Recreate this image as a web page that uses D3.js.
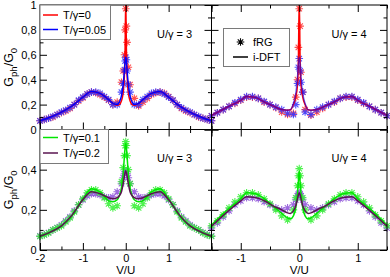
<!DOCTYPE html>
<html>
<head>
<meta charset="utf-8">
<script src="https://cdn.jsdelivr.net/npm/d3@7"></script>
<style>
  html, body { margin: 0; padding: 0; background: #fff; }
  svg { display: block; font-family: "Liberation Sans", Arial, sans-serif; }
  .tick text { font-size: 11px; fill: #000; }
  .tick line { stroke: #000; }
</style>
</head>
<body>
<svg id="chart" width="390" height="277"></svg>
<script>
// ---- data -------------------------------------------------------------
// i-DFT lines (U/γ=3 on V/U in [-2,2], U/γ=4 on V/U in [-1.5,1.5])
const vLine3 = [-2, -1.75, -1.5, -1.25, -1, -0.8, -0.6, -0.4, -0.3, -0.2, -0.15, -0.1, -0.06, -0.03, -0.015, 0,
  0.015, 0.03, 0.06, 0.1, 0.15, 0.2, 0.3, 0.4, 0.6, 0.8, 1, 1.25, 1.5, 1.75, 2];
const dftT0U3 = [0.07, 0.1, 0.14, 0.19, 0.26, 0.305, 0.29, 0.24, 0.21, 0.195, 0.2, 0.23, 0.3, 0.45, 0.65, 1.05,
  0.65, 0.45, 0.3, 0.23, 0.2, 0.195, 0.21, 0.24, 0.29, 0.305, 0.26, 0.19, 0.14, 0.1, 0.07];
const dftT005U3 = [0.07, 0.1, 0.14, 0.19, 0.26, 0.305, 0.29, 0.24, 0.21, 0.2, 0.22, 0.27, 0.36, 0.48, 0.55, 0.58,
  0.55, 0.48, 0.36, 0.27, 0.22, 0.2, 0.21, 0.24, 0.29, 0.305, 0.26, 0.19, 0.14, 0.1, 0.07];
const dftT01U3 = [0.068, 0.09, 0.12, 0.17, 0.255, 0.305, 0.29, 0.245, 0.24, 0.25, 0.27, 0.31, 0.38, 0.47, 0.51, 0.53,
  0.51, 0.47, 0.38, 0.31, 0.27, 0.25, 0.24, 0.245, 0.29, 0.305, 0.255, 0.17, 0.12, 0.09, 0.068];
const dftT02U3 = [0.068, 0.09, 0.12, 0.175, 0.25, 0.29, 0.28, 0.26, 0.255, 0.26, 0.27, 0.29, 0.33, 0.37, 0.385, 0.395,
  0.385, 0.37, 0.33, 0.29, 0.27, 0.26, 0.255, 0.26, 0.28, 0.29, 0.25, 0.175, 0.12, 0.09, 0.068];

const vLine4 = [-1.5, -1.25, -1, -0.9, -0.75, -0.6, -0.45, -0.3, -0.2, -0.15, -0.1, -0.06, -0.03, -0.015, 0,
  0.015, 0.03, 0.06, 0.1, 0.15, 0.2, 0.3, 0.45, 0.6, 0.75, 0.9, 1, 1.25, 1.5];
const dftT0U4 = [0.113, 0.175, 0.234, 0.265, 0.258, 0.222, 0.19, 0.16, 0.155, 0.158, 0.2, 0.26, 0.36, 0.55, 1.05,
  0.55, 0.36, 0.26, 0.2, 0.158, 0.155, 0.16, 0.19, 0.222, 0.258, 0.265, 0.234, 0.175, 0.113];
const dftT005U4 = [0.113, 0.175, 0.234, 0.265, 0.258, 0.222, 0.19, 0.16, 0.155, 0.16, 0.21, 0.29, 0.42, 0.52, 0.58,
  0.52, 0.42, 0.29, 0.21, 0.16, 0.155, 0.16, 0.19, 0.222, 0.258, 0.265, 0.234, 0.175, 0.113];
const dftT01U4 = [0.124, 0.195, 0.255, 0.285, 0.28, 0.256, 0.22, 0.182, 0.16, 0.155, 0.17, 0.21, 0.28, 0.34, 0.395,
  0.34, 0.28, 0.21, 0.17, 0.155, 0.16, 0.182, 0.22, 0.256, 0.28, 0.285, 0.255, 0.195, 0.124];
const dftT02U4 = [0.118, 0.185, 0.245, 0.265, 0.262, 0.245, 0.22, 0.2, 0.185, 0.182, 0.195, 0.22, 0.255, 0.275, 0.285,
  0.275, 0.255, 0.22, 0.195, 0.182, 0.185, 0.2, 0.22, 0.245, 0.262, 0.265, 0.245, 0.185, 0.118];

// fRG points
const vStar3 = [-2, -1.9, -1.8, -1.7, -1.6, -1.5, -1.4, -1.3, -1.2, -1.1, -1, -0.9, -0.8, -0.7, -0.6, -0.5, -0.4, -0.3, -0.2, -0.1,
  -0.06, -0.03, -0.015, 0, 0.015, 0.03, 0.06,
  0.1, 0.2, 0.3, 0.4, 0.5, 0.6, 0.7, 0.8, 0.9, 1, 1.1, 1.2, 1.3, 1.4, 1.5, 1.6, 1.7, 1.8, 1.9, 2];
const frgT0U3 = [0.07, 0.08, 0.09, 0.1, 0.12, 0.135, 0.15, 0.17, 0.2, 0.23, 0.255, 0.285, 0.3, 0.295, 0.28, 0.26, 0.235, 0.2, 0.22, 0.38,
  0.47, 0.6, 0.8, 0.97, 0.83, 0.7, 0.5,
  0.36, 0.25, 0.19, 0.22, 0.25, 0.28, 0.295, 0.3, 0.29, 0.265, 0.235, 0.2, 0.17, 0.15, 0.135, 0.12, 0.1, 0.09, 0.08, 0.07];
const frgT005U3 = [0.07, 0.08, 0.09, 0.105, 0.12, 0.14, 0.155, 0.175, 0.2, 0.235, 0.26, 0.285, 0.3, 0.3, 0.29, 0.265, 0.24, 0.2, 0.2, 0.3,
  0.37, 0.48, 0.55, 0.58, 0.56, 0.47, 0.36,
  0.3, 0.2, 0.2, 0.24, 0.265, 0.29, 0.3, 0.3, 0.285, 0.26, 0.235, 0.2, 0.175, 0.155, 0.14, 0.12, 0.105, 0.09, 0.08, 0.07];
const frgT01U3 = [0.068, 0.075, 0.085, 0.1, 0.11, 0.12, 0.14, 0.16, 0.19, 0.225, 0.255, 0.285, 0.3, 0.3, 0.285, 0.26, 0.23, 0.21, 0.22, 0.34,
  0.41, 0.47, 0.52, 0.54, 0.52, 0.47, 0.4,
  0.33, 0.22, 0.21, 0.23, 0.26, 0.285, 0.3, 0.3, 0.285, 0.255, 0.225, 0.19, 0.16, 0.14, 0.12, 0.11, 0.1, 0.085, 0.075, 0.068];
const frgT02U3 = [0.07, 0.077, 0.087, 0.1, 0.112, 0.125, 0.145, 0.165, 0.195, 0.225, 0.25, 0.27, 0.28, 0.28, 0.275, 0.265, 0.26, 0.265, 0.29, 0.33,
  0.36, 0.38, 0.39, 0.39, 0.39, 0.38, 0.36,
  0.33, 0.29, 0.265, 0.26, 0.265, 0.275, 0.28, 0.28, 0.27, 0.25, 0.225, 0.195, 0.165, 0.145, 0.125, 0.112, 0.1, 0.087, 0.077, 0.07];

const vStar4 = [-1.5, -1.4, -1.3, -1.2, -1.1, -1, -0.9, -0.8, -0.7, -0.6, -0.5, -0.4, -0.3, -0.2, -0.1,
  -0.06, -0.03, -0.015, 0, 0.015, 0.03, 0.06,
  0.1, 0.2, 0.3, 0.4, 0.5, 0.6, 0.7, 0.8, 0.9, 1, 1.1, 1.2, 1.3, 1.4, 1.5];
const frgT0U4 = [0.11, 0.135, 0.16, 0.185, 0.21, 0.235, 0.26, 0.26, 0.25, 0.22, 0.2, 0.175, 0.14, 0.12, 0.13,
  0.26, 0.4, 0.66, 0.97, 0.83, 0.46, 0.3,
  0.16, 0.115, 0.14, 0.17, 0.2, 0.22, 0.25, 0.26, 0.26, 0.235, 0.21, 0.185, 0.16, 0.135, 0.11];
const frgT005U4 = [0.11, 0.135, 0.16, 0.185, 0.215, 0.24, 0.265, 0.265, 0.25, 0.225, 0.2, 0.18, 0.16, 0.13, 0.12,
  0.2, 0.37, 0.5, 0.57, 0.47, 0.38, 0.3,
  0.14, 0.12, 0.16, 0.18, 0.2, 0.225, 0.25, 0.265, 0.265, 0.24, 0.215, 0.185, 0.16, 0.135, 0.11];
const frgT01U4 = [0.12, 0.145, 0.175, 0.21, 0.24, 0.265, 0.285, 0.285, 0.275, 0.255, 0.23, 0.2, 0.17, 0.15, 0.2,
  0.26, 0.32, 0.37, 0.405, 0.37, 0.32, 0.26,
  0.2, 0.15, 0.17, 0.2, 0.23, 0.255, 0.275, 0.285, 0.285, 0.265, 0.24, 0.21, 0.175, 0.145, 0.12];
const frgT02U4 = [0.11, 0.135, 0.165, 0.195, 0.225, 0.245, 0.26, 0.26, 0.255, 0.24, 0.225, 0.21, 0.2, 0.21, 0.225,
  0.25, 0.27, 0.28, 0.285, 0.28, 0.27, 0.25,
  0.225, 0.21, 0.2, 0.21, 0.225, 0.24, 0.255, 0.26, 0.26, 0.245, 0.225, 0.195, 0.165, 0.135, 0.11];

const legendTop = ['T/γ=0', 'T/γ=0.05'];
const legendBottom = ['T/γ=0.1', 'T/γ=0.2'];
const legendMethod = ['fRG', 'i-DFT'];
const panelLabels = ['U/γ = 3', 'U/γ = 4'];

// ---- layout -------------------------------------------------------------
const EDGE = { left: 40, mid: 211.5, right: 387, top: 5, split: 129.5, bottom: 250 };
const COL = { red: '#ff0000', blue: '#0000ff', green: '#00e600', dark: '#5a1450',
  sRed: '#ff3030', sBlue: '#3535ff', sGreen: '#30f030', sPurple: '#8c4fd8' };

const svg = d3.select('#chart');

function starPath(r) {
  const d = r * 0.72;
  return `M0,${-r}V${r}M${-r},0H${r}M${-d},${-d}L${d},${d}M${-d},${d}L${d},${-d}`;
}

const panels = [
  { id: 'tl', x: [EDGE.left, EDGE.mid], y: [EDGE.split, EDGE.top], xd: [-2, 2], yd: [0, 1], label: panelLabels[0],
    stars: [[vStar3, frgT0U3, COL.sRed], [vStar3, frgT005U3, COL.sBlue]],
    lines: [[vLine3, dftT0U3, COL.red, 1], [vLine3, dftT005U3, COL.blue, 1]] },
  { id: 'tr', x: [EDGE.mid, EDGE.right], y: [EDGE.split, EDGE.top], xd: [-1.5, 1.5], yd: [0, 1], label: panelLabels[1],
    stars: [[vStar4, frgT0U4, COL.sRed], [vStar4, frgT005U4, COL.sBlue]],
    lines: [[vLine4, dftT0U4, COL.red, 1], [vLine4, dftT005U4, COL.blue, 0.55]] },
  { id: 'bl', x: [EDGE.left, EDGE.mid], y: [EDGE.bottom, EDGE.split], xd: [-2, 2], yd: [0, 0.6], label: panelLabels[0],
    stars: [[vStar3, frgT02U3, COL.sPurple], [vStar3, frgT01U3, COL.sGreen]],
    lines: [[vLine3, dftT01U3, COL.green, 1], [vLine3, dftT02U3, COL.dark, 1]] },
  { id: 'br', x: [EDGE.mid, EDGE.right], y: [EDGE.bottom, EDGE.split], xd: [-1.5, 1.5], yd: [0, 0.6], label: panelLabels[1],
    stars: [[vStar4, frgT02U4, COL.sPurple], [vStar4, frgT01U4, COL.sGreen]],
    lines: [[vLine4, dftT01U4, COL.green, 1], [vLine4, dftT02U4, COL.dark, 1]] },
];

const fmtY = d => d === 0 ? '0' : d === 1 ? '1' : String(+d.toFixed(1)).replace('.', ',');
const fmtX = d => d < 0 ? '-' + Math.abs(d) : String(d);

panels.forEach(p => {
  const x = d3.scaleLinear().domain(p.xd).range(p.x);
  const y = d3.scaleLinear().domain(p.yd).range(p.y);
  const g = svg.append('g').attr('class', 'panel-' + p.id);

  svg.append('clipPath').attr('id', 'clip-' + p.id)
    .append('rect').attr('x', p.x[0]).attr('y', p.y[1]).attr('width', p.x[1] - p.x[0]).attr('height', p.y[0] - p.y[1]);

  // stars (fRG)
  p.stars.forEach(([vs, gs, c]) => {
    g.append('g').selectAll('path')
      .data(d3.zip(vs, gs))
      .join('path')
      .attr('transform', d => `translate(${x(d[0])},${y(d[1])})`)
      .attr('d', starPath(3.8))
      .attr('fill', 'none')
      .attr('stroke', c)
      .attr('stroke-opacity', 0.85)
      .attr('stroke-width', 1.1);
  });

  // lines (i-DFT)
  const line = d3.line().x(d => x(d[0])).y(d => y(d[1])).curve(d3.curveMonotoneX);
  p.lines.forEach(([vs, gs, c, op]) => {
    g.append('path')
      .attr('clip-path', `url(#clip-${p.id})`)
      .attr('d', line(d3.zip(vs, gs)))
      .attr('fill', 'none')
      .attr('stroke', c)
      .attr('stroke-opacity', op)
      .attr('stroke-width', 1.5);
  });

  // ticks on all four sides, pointing inward
  const isLeft = p.xd[0] === -2;
  const isBottom = p.yd[1] === 0.6;
  const xMajor = isLeft ? [-2, -1, 0, 1, 2] : [-1, 0, 1];
  const xMinor = [-1.5, -0.5, 0.5, 1.5];
  const yMajor = isBottom ? [0, 0.2, 0.4, 0.6] : [0, 0.2, 0.4, 0.6, 0.8, 1];
  const yMinor = isBottom ? [0.1, 0.3, 0.5] : [0.1, 0.3, 0.5, 0.7, 0.9];

  const addAxis = (axis, tr, vals, size, labels) => {
    const a = g.append('g').attr('transform', tr)
      .call(axis.tickValues(vals).tickSize(-size).tickPadding(labels ? labels.pad : 0)
        .tickFormat(labels ? labels.fmt : () => ''));
    a.select('.domain').remove();
    return a;
  };

  const bottomLabels = isBottom ? { pad: 4.5, fmt: d => (isLeft && d === 2) ? '' : fmtX(d) } : null;
  addAxis(d3.axisBottom(x), `translate(0,${p.y[0]})`, xMajor, 7, bottomLabels);
  addAxis(d3.axisBottom(x), `translate(0,${p.y[0]})`, xMinor, 3.5, null);
  addAxis(d3.axisTop(x), `translate(0,${p.y[1]})`, xMajor, 7, null);
  addAxis(d3.axisTop(x), `translate(0,${p.y[1]})`, xMinor, 3.5, null);

  const leftLabels = isLeft ? { pad: 3.5, fmt: d => (isBottom && d === 0.6) ? '' : fmtY(d) } : null;
  addAxis(d3.axisLeft(y), `translate(${p.x[0]},0)`, yMajor, 7, leftLabels);
  addAxis(d3.axisLeft(y), `translate(${p.x[0]},0)`, yMinor, 3.5, null);
  addAxis(d3.axisRight(y), `translate(${p.x[1]},0)`, yMajor, 7, null);
  addAxis(d3.axisRight(y), `translate(${p.x[1]},0)`, yMinor, 3.5, null);

  // panel annotation
  g.append('text')
    .attr('x', isLeft ? 157 : 331.5)
    .attr('y', p.y[1] + 32.5)
    .attr('font-size', 11)
    .text(p.label);

  // x title
  if (isBottom) {
    g.append('text')
      .attr('x', x(0)).attr('y', 274)
      .attr('text-anchor', 'middle').attr('font-size', 11.5)
      .text('V/U');
  }
  // y title
  if (isLeft) {
    const cy = (p.y[0] + p.y[1]) / 2;
    const t = g.append('text')
      .attr('transform', `translate(13,${cy}) rotate(-90)`)
      .attr('text-anchor', 'middle').attr('font-size', 12.5);
    t.append('tspan').text('G');
    t.append('tspan').attr('font-size', 9.5).attr('dy', 3.5).text('ph');
    t.append('tspan').attr('dy', -3.5).text('/G');
    t.append('tspan').attr('font-size', 9.5).attr('dy', 3.5).text('0');
  }
});

// frame: outer edges and the two dividers
const frame = svg.append('g').attr('fill', 'none').attr('stroke', '#000').attr('stroke-width', 1);
frame.append('rect')
  .attr('x', EDGE.left).attr('y', EDGE.top)
  .attr('width', EDGE.right - EDGE.left).attr('height', EDGE.bottom - EDGE.top);
frame.append('line').attr('x1', EDGE.mid).attr('x2', EDGE.mid).attr('y1', EDGE.top).attr('y2', EDGE.bottom);
frame.append('line').attr('x1', EDGE.left).attr('x2', EDGE.right).attr('y1', EDGE.split).attr('y2', EDGE.split);

// ---- legends -------------------------------------------------------------
function legendBox(x0, y0, w, h) {
  return svg.append('rect').attr('x', x0).attr('y', y0).attr('width', w).attr('height', h)
    .attr('fill', '#fff').attr('stroke', '#7a7a7a').attr('stroke-width', 1);
}

legendBox(40, 5, 70.5, 34.5);
[[legendTop[0], COL.red, 15], [legendTop[1], COL.blue, 29.5]].forEach(([txt, c, yy]) => {
  svg.append('line').attr('x1', 43).attr('x2', 58).attr('y1', yy).attr('y2', yy).attr('stroke', c).attr('stroke-width', 1.5);
  svg.append('text').attr('x', 63).attr('y', yy + 4).attr('font-size', 11).text(txt);
});

legendBox(40, 129.5, 68.5, 34);
[[legendBottom[0], COL.green, 137.5], [legendBottom[1], COL.dark, 153]].forEach(([txt, c, yy]) => {
  svg.append('line').attr('x1', 43).attr('x2', 58).attr('y1', yy).attr('y2', yy).attr('stroke', c).attr('stroke-width', 1.5);
  svg.append('text').attr('x', 63).attr('y', yy + 4).attr('font-size', 11).text(txt);
});

legendBox(223.5, 28.5, 66, 38);
svg.append('path').attr('transform', 'translate(240.5,42)').attr('d', starPath(3.8))
  .attr('fill', 'none').attr('stroke', '#000').attr('stroke-width', 1.1);
svg.append('text').attr('x', 253).attr('y', 46).attr('font-size', 11).text(legendMethod[0]);
svg.append('line').attr('x1', 233).attr('x2', 248).attr('y1', 57).attr('y2', 57).attr('stroke', '#000').attr('stroke-width', 1.5);
svg.append('text').attr('x', 253).attr('y', 61).attr('font-size', 11).text(legendMethod[1]);
</script>
</body>
</html>
